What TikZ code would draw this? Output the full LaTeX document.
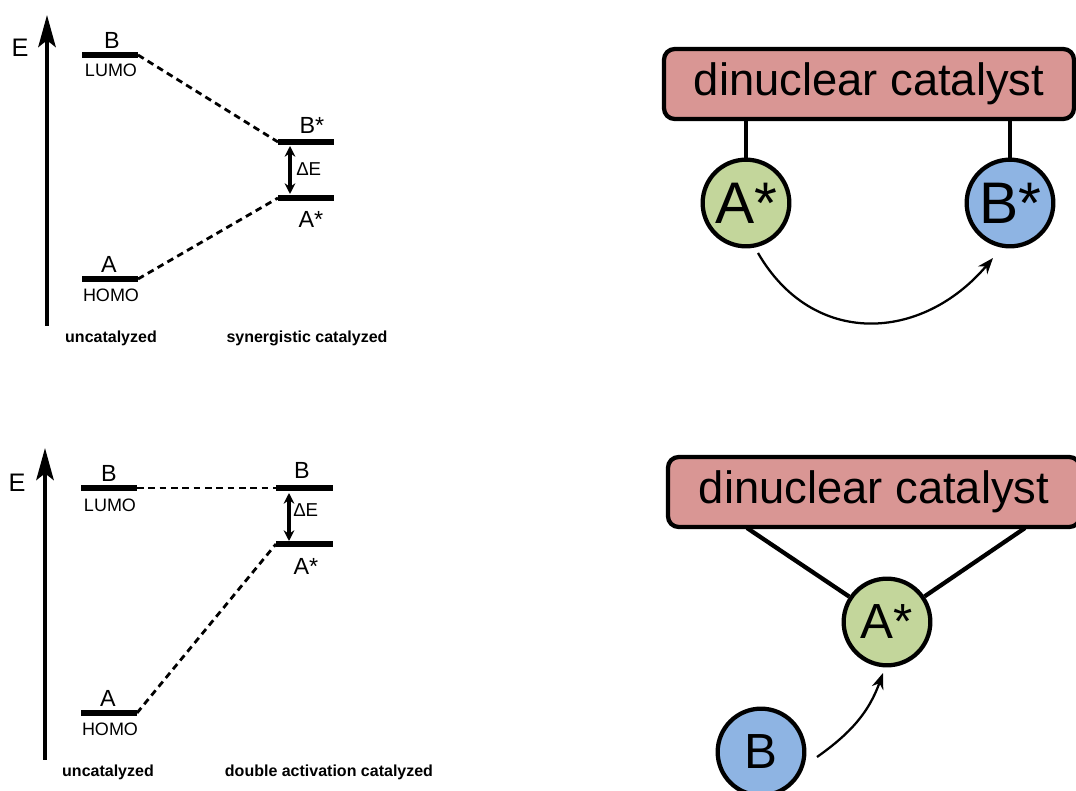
\documentclass[tikz,border=0pt]{standalone}
\usepackage{fontspec}
\setmainfont{Liberation Sans}
\usetikzlibrary{arrows.meta}

\definecolor{catred}{RGB}{217,150,148}
\definecolor{agreen}{RGB}{195,214,155}
\definecolor{bblue}{RGB}{142,180,227}

\begin{document}
\begin{tikzpicture}[x=0.75pt,y=-0.75pt,
  bar/.style={fill=black, minimum width=42pt, minimum height=3.9pt, inner sep=0pt, outer sep=0pt},
  corr/.style={line width=2.1pt, dash pattern=on 5pt off 3.5pt},
  eaxis/.style={line width=3.2pt, -{Stealth[length=24pt,width=13pt,inset=5pt]}},
  split/.style={line width=2.4pt, {Stealth[length=8pt,width=8pt]}-{Stealth[length=8pt,width=8pt]}},
  big/.style={font=\fontsize{17.5}{20}\selectfont, inner sep=0pt},
  orb/.style={font=\fontsize{13.5}{15}\selectfont, inner sep=0pt},
  elab/.style={font=\fontsize{19}{22}\selectfont, inner sep=0pt},
  dlab/.style={font=\fontsize{14}{16}\selectfont, inner sep=0pt},
  caption/.style={font=\bfseries\fontsize{12}{14}\selectfont, inner sep=0pt},
  catbox/.style={draw, line width=3.2pt, fill=catred, rounded corners=8pt,
    minimum height=52.5pt, font=\fontsize{34}{40}\selectfont, inner sep=0pt},
  ball/.style={circle, draw, line width=3.2pt, minimum size=65pt, inner sep=0pt},
  bond/.style={line width=3.2pt},
  flow/.style={line width=1.7pt, -{Stealth[length=12pt,width=9pt]}},
]
\useasboundingbox (0,0) rectangle (1076,791);
\clip (0,0) rectangle (1076,791);

% ---------- synergistic catalysis: energy levels ----------
\coordinate (ax1lo) at (47,326);
\coordinate (ax1hi) at (47,15);
\draw[eaxis] (ax1lo) -- (ax1hi);
\node[elab, anchor=base] (E1) at (20,57) {E};

\node[bar] (uB1) at (110,55) {};
\node[bar] (uA1) at (110,279) {};
\node[bar] (sB1) at (306,142) {};
\node[bar] (sA1) at (306,198) {};

\node[big, anchor=base] (uB1t) at (112,49) {B};
\node[orb, anchor=base] (uB1o) at (111,77) {LUMO};
\node[big, anchor=base] (uA1t) at (109,273) {A};
\node[orb, anchor=base] (uA1o) at (111,302) {HOMO};
\node[big, anchor=base] (sB1t) at (312,134) {B*};
\node[big, anchor=base] (sA1t) at (311,228) {A*};

\draw[corr] (uB1.east) -- (sB1.west);
\draw[corr] (uA1.east) -- (sA1.west);

\coordinate (g1t) at (290,146);
\coordinate (g1b) at (290,194);
\draw[split] (g1t) -- (g1b);
\node[dlab, anchor=base west] (dE1) at (296,176) {ΔE};

\node[caption, anchor=base] (cap1a) at (111,343) {uncatalyzed};
\node[caption, anchor=base] (cap1b) at (307,343) {synergistic catalyzed};

% ---------- double activation: energy levels ----------
\coordinate (ax2lo) at (45,760);
\coordinate (ax2hi) at (45,448);
\draw[eaxis] (ax2lo) -- (ax2hi);
\node[elab, anchor=base] (E2) at (17,492) {E};

\node[bar] (uB2) at (109,488) {};
\node[bar] (uA2) at (109,713) {};
\node[bar, minimum width=42.75pt] (dB2) at (304.5,488) {};
\node[bar, minimum width=42.75pt] (dA2) at (304.5,544) {};

\node[big, anchor=base] (uB2t) at (109,482) {B};
\node[orb, anchor=base] (uB2o) at (110,512) {LUMO};
\node[big, anchor=base] (uA2t) at (108,707) {A};
\node[orb, anchor=base] (uA2o) at (110,735) {HOMO};
\node[big, anchor=base] (dB2t) at (302,479) {B};
\node[big, anchor=base] (dA2t) at (306,575) {A*};

\draw[corr] (uB2.east) -- (dB2.west);
\draw[corr] (uA2.east) -- (dA2.west);

\coordinate (g2t) at (289,493);
\coordinate (g2b) at (289,541);
\draw[split] (g2t) -- (g2b);
\node[dlab, anchor=base west] (dE2) at (293,517) {ΔE};

\node[caption, anchor=base] (cap2a) at (108,777) {uncatalyzed};
\node[caption, anchor=base] (cap2b) at (329,777) {double activation catalyzed};

% ---------- synergistic catalysis: scheme ----------
\node[catbox, minimum width=307.5pt] (cat1) at (869,84) {dinuclear catalyst};
\node[ball, fill=agreen, font=\fontsize{44}{50}\selectfont] (A1) at (746,203) {A*};
\node[ball, fill=bblue, font=\fontsize{44}{50}\selectfont] (B1) at (1010,203) {B*};
\draw[bond] (A1.north) -- (A1.north |- cat1.south);
\draw[bond] (B1.north) -- (B1.north |- cat1.south);

\coordinate (f1s) at (758,253);
\coordinate (f1e) at (993,258);
\draw[flow] (f1s) .. controls (813,348) and (922,342) .. (f1e);

% ---------- double activation: scheme ----------
\node[catbox, minimum width=309pt] (cat2) at (874,492) {dinuclear catalyst};
\node[ball, fill=agreen, font=\fontsize{37}{44}\selectfont] (A2) at (887,622) {A*};
\node[ball, fill=bblue, font=\fontsize{37}{44}\selectfont] (B2) at (761,752) {B};
\coordinate (k1) at (747,528);
\coordinate (k2) at (1025,528);
\draw[bond] (k1) -- (A2);
\draw[bond] (k2) -- (A2);

\coordinate (f2s) at (817,757);
\coordinate (f2e) at (883,673);
\draw[flow] (f2s) .. controls (851,733) and (869,712) .. (f2e);

\end{tikzpicture}
\end{document}
